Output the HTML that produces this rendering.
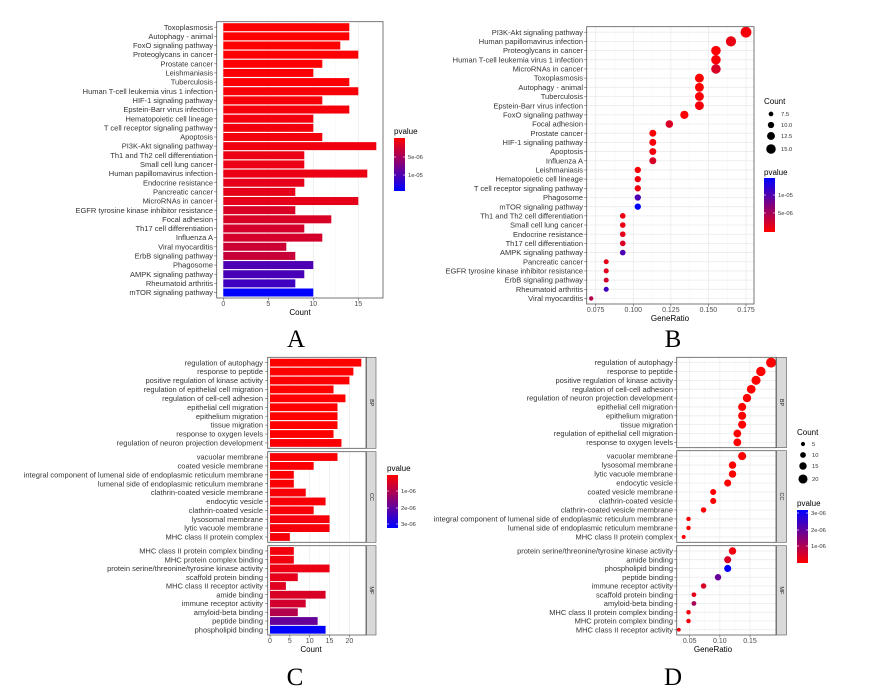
<!DOCTYPE html>
<html><head><meta charset="utf-8">
<style>
html,body{margin:0;padding:0;background:#fff;}
svg{display:block;font-family:"Liberation Sans",sans-serif;}
.lab{font-size:7.5px;fill:#333;}
.tick{font-size:7px;fill:#4d4d4d;}
.ttl{font-size:8px;fill:#000;}
.leg{font-size:5.8px;fill:#333;}
.big{font-family:"Liberation Serif",serif;font-size:25px;fill:#000;}
</style></head>
<body>
<svg id="fig" width="874" height="692" viewBox="0 0 874 692" xmlns="http://www.w3.org/2000/svg">
<defs>
<linearGradient id="gRB" x1="0" y1="0" x2="0" y2="1"><stop offset="0" stop-color="#ff0000"/><stop offset="1" stop-color="#0000ff"/></linearGradient>
<linearGradient id="gBR" x1="0" y1="0" x2="0" y2="1"><stop offset="0" stop-color="#0000ff"/><stop offset="1" stop-color="#ff0000"/></linearGradient>
</defs>
</svg>
<script>
// ---------- Panel A data (KEGG bar) ----------
const catsA = ["Toxoplasmosis","Autophagy - animal","FoxO signaling pathway","Proteoglycans in cancer","Prostate cancer","Leishmaniasis","Tuberculosis","Human T-cell leukemia virus 1 infection","HIF-1 signaling pathway","Epstein-Barr virus infection","Hematopoietic cell lineage","T cell receptor signaling pathway","Apoptosis","PI3K-Akt signaling pathway","Th1 and Th2 cell differentiation","Small cell lung cancer","Human papillomavirus infection","Endocrine resistance","Pancreatic cancer","MicroRNAs in cancer","EGFR tyrosine kinase inhibitor resistance","Focal adhesion","Th17 cell differentiation","Influenza A","Viral myocarditis","ErbB signaling pathway","Phagosome","AMPK signaling pathway","Rheumatoid arthritis","mTOR signaling pathway"];
const countsA = [14,14,13,15,11,10,14,15,11,14,10,10,11,17,9,9,16,9,8,15,8,12,9,11,7,8,10,9,8,10];
const pA = [0,0,0,0.01,0.01,0.02,0.02,0.03,0.03,0.04,0.05,0.05,0.05,0.06,0.08,0.08,0.08,0.1,0.1,0.1,0.15,0.15,0.17,0.17,0.2,0.22,0.7,0.72,0.75,1];
const ticksA = [0,5,10,15];
// ---------- Panel B data (KEGG dot) ----------
const catsB = ["PI3K-Akt signaling pathway","Human papillomavirus infection","Proteoglycans in cancer","Human T-cell leukemia virus 1 infection","MicroRNAs in cancer","Toxoplasmosis","Autophagy - animal","Tuberculosis","Epstein-Barr virus infection","FoxO signaling pathway","Focal adhesion","Prostate cancer","HIF-1 signaling pathway","Apoptosis","Influenza A","Leishmaniasis","Hematopoietic cell lineage","T cell receptor signaling pathway","Phagosome","mTOR signaling pathway","Th1 and Th2 cell differentiation","Small cell lung cancer","Endocrine resistance","Th17 cell differentiation","AMPK signaling pathway","Pancreatic cancer","EGFR tyrosine kinase inhibitor resistance","ErbB signaling pathway","Rheumatoid arthritis","Viral myocarditis"];
const ratioB = [0.175,0.165,0.155,0.155,0.155,0.144,0.144,0.144,0.144,0.134,0.124,0.113,0.113,0.113,0.113,0.103,0.103,0.103,0.103,0.103,0.093,0.093,0.093,0.093,0.093,0.082,0.082,0.082,0.082,0.072];
const countsB = [17,16,15,15,15,14,14,14,14,13,12,11,11,11,11,10,10,10,10,10,9,9,9,9,9,8,8,8,8,7];
const pB = [0.04,0.08,0.01,0.03,0.15,0,0,0.02,0.04,0,0.15,0.01,0.03,0.05,0.15,0.02,0.05,0.05,0.7,1,0.08,0.08,0.1,0.15,0.7,0.1,0.12,0.18,0.75,0.3];
const ticksB = [0.075,0.1,0.125,0.15,0.175];
// ---------- Panel C data (GO bar) ----------
const catsCBP = ["regulation of autophagy","response to peptide","positive regulation of kinase activity","regulation of epithelial cell migration","regulation of cell-cell adhesion","epithelial cell migration","epithelium migration","tissue migration","response to oxygen levels","regulation of neuron projection development"];
const countsCBP = [23,21,20,16,19,17,17,17,16,18];
const catsCCC = ["vacuolar membrane","coated vesicle membrane","integral component of lumenal side of endoplasmic reticulum membrane","lumenal side of endoplasmic reticulum membrane","clathrin-coated vesicle membrane","endocytic vesicle","clathrin-coated vesicle","lysosomal membrane","lytic vacuole membrane","MHC class II protein complex"];
const countsCCC = [17,11,6,6,9,14,11,15,15,5];
const catsCMF = ["MHC class II protein complex binding","MHC protein complex binding","protein serine/threonine/tyrosine kinase activity","scaffold protein binding","MHC class II receptor activity","amide binding","immune receptor activity","amyloid-beta binding","peptide binding","phospholipid binding"];
const countsCMF = [6,6,15,7,4,14,9,7,12,14];
const pCBP = [0,0,0,0,0,0,0,0,0,0.02];
const pCCC = [0.02,0.02,0.02,0.02,0.03,0.03,0.03,0.04,0.04,0.04];
const pCMF = [0.05,0.05,0.08,0.1,0.12,0.15,0.18,0.3,0.6,1];
const ticksC = [0,5,10,15,20];
// ---------- Panel D data (GO dot) ----------
const catsDBP = ["regulation of autophagy","response to peptide","positive regulation of kinase activity","regulation of cell-cell adhesion","regulation of neuron projection development","epithelial cell migration","epithelium migration","tissue migration","regulation of epithelial cell migration","response to oxygen levels"];
const ratioDBP = [0.185,0.168,0.16,0.152,0.145,0.137,0.137,0.137,0.129,0.129];
const countsDBP = [23,21,20,19,18,17,17,17,16,16];
const catsDCC = ["vacuolar membrane","lysosomal membrane","lytic vacuole membrane","endocytic vesicle","coated vesicle membrane","clathrin-coated vesicle","clathrin-coated vesicle membrane","integral component of lumenal side of endoplasmic reticulum membrane","lumenal side of endoplasmic reticulum membrane","MHC class II protein complex"];
const ratioDCC = [0.137,0.121,0.121,0.113,0.089,0.089,0.073,0.048,0.048,0.04];
const countsDCC = [17,15,15,14,11,11,9,6,6,5];
const catsDMF = ["protein serine/threonine/tyrosine kinase activity","amide binding","phospholipid binding","peptide binding","immune receptor activity","scaffold protein binding","amyloid-beta binding","MHC class II protein complex binding","MHC protein complex binding","MHC class II receptor activity"];
const ratioDMF = [0.121,0.113,0.113,0.097,0.073,0.057,0.057,0.048,0.048,0.032];
const countsDMF = [15,14,14,12,9,7,7,6,6,4];
const pDBP = [0,0,0,0,0,0,0,0,0,0];
const pDCC = [0,0,0,0,0,0,0,0,0,0];
const pDMF = [0.05,0.15,1,0.6,0.15,0.1,0.35,0.05,0.05,0.05];
const ticksD = [0.05,0.10,0.15];

const NS="http://www.w3.org/2000/svg";
const svg=document.getElementById('fig');
function mk(tag,attrs,parent){const e=document.createElementNS(NS,tag);for(const k in attrs)e.setAttribute(k,attrs[k]);(parent||svg).appendChild(e);return e;}
function col(t){const r=Math.round(255*(1-t)),b=Math.round(255*t);return `rgb(${r},0,${b})`;}

function panelFrame(x0,x1,y0,y1,xs,ticks,name){
  const g=mk('g',{});
  
  
  mk('rect',{x:x0,y:y0,width:x1-x0,height:y1-y0,fill:'#fff'},g);
  for(let i=0;i<ticks.length;i++){
    const x=xs(ticks[i]);
    const gl=mk('line',{x1:x,x2:x,y1:y0,y2:y1,stroke:'#ebebeb','stroke-width':0.8},g);
    
    
    if(i<ticks.length-1){const xm=(x+xs(ticks[i+1]))/2;mk('line',{x1:xm,x2:xm,y1:y0,y2:y1,stroke:'#f4f4f4','stroke-width':0.5},g);}
  }
  return g;
}
function border(x0,x1,y0,y1){mk('rect',{x:x0,y:y0,width:x1-x0,height:y1-y0,fill:'none',stroke:'#555','stroke-width':0.8});}
function xTicks(xs,ticks,y1,ty,fmt){
  ticks.forEach(v=>{const x=xs(v);mk('line',{x1:x,x2:x,y1:y1,y2:y1+2.5,stroke:'#555','stroke-width':0.6});
    const t=mk('text',{x:x,y:ty,'text-anchor':'middle',class:'tick'});t.textContent=fmt(v);
    
    });
}
function rowLabels(cats,yc,lx,x0){
  cats.forEach((c,i)=>{const y=yc(i);
    mk('line',{x1:x0-2.5,x2:x0,y1:y,y2:y,stroke:'#555','stroke-width':0.6});
    const t=mk('text',{x:lx,y:y+2.6,'text-anchor':'end',class:'lab'});t.textContent=c;
    
    });
}
function rows(n,y0,y1){const u=(y1-y0)/(n-1+1.2);return i=>y0+u*(0.6+i);}
function bars(cats,counts,ps,xs,yc,h,name){
  cats.forEach((c,i)=>{const x=xs(0),w=xs(counts[i])-x;
    const r=mk('rect',{x:x,y:yc(i)-h/2,width:w,height:h,fill:col(ps[i])});
    
    });
}
function dots(cats,ratios,counts,ps,xs,yc,rad,name){
  cats.forEach((c,i)=>{
    const d=mk('circle',{cx:xs(ratios[i]),cy:yc(i),r:rad(counts[i]),fill:col(ps[i])});
    
    });
}
function txt(x,y,s,cls,anchor,name){const t=mk('text',{x:x,y:y,class:cls,'text-anchor':anchor||'start'});t.textContent=s;
  
  return t;}
function colorbar(x,y,w,h,grad,labels,ys,name){
  const r=mk('rect',{x:x,y:y,width:w,height:h,fill:'url(#'+grad+')'});
  
  
  labels.forEach((l,i)=>{mk('line',{x1:x,x2:x+2,y1:ys[i],y2:ys[i],stroke:'#fff','stroke-width':0.6});mk('line',{x1:x+w-2,x2:x+w,y1:ys[i],y2:ys[i],stroke:'#fff','stroke-width':0.6});
    txt(x+w+3,ys[i]+2,l,'leg','start','legend-label');});
}
function strip(x0,x1,y0,y1,label){
  const r=mk('rect',{x:x0,y:y0,width:x1-x0,height:y1-y0,fill:'#d9d9d9',stroke:'#555','stroke-width':0.6});
  
  
  const cx=(x0+x1)/2,cy=(y0+y1)/2;
  const t=mk('text',{x:cx,y:cy,'text-anchor':'middle',transform:`rotate(90 ${cx} ${cy})`,style:'font-size:5.5px;fill:#1a1a1a','dominant-baseline':'middle'});t.textContent=label;
  
  
}

// ===== Panel A =====
(function(){
  const x0=216.7,x1=383,y0=21.7,y1=298;
  const xs=v=>223.3+v*9;
  const yc=rows(catsA.length,y0,y1);
  panelFrame(x0,x1,y0,y1,xs,ticksA,'a');
  bars(catsA,countsA,pA,xs,yc,8,'a');
  border(x0,x1,y0,y1);
  rowLabels(catsA,yc,213,x0);
  xTicks(xs,ticksA,y1,306,v=>String(v));
  txt(300,315,'Count','ttl','middle','a-x-axis-title');
  txt(394,134,'pvalue','ttl','start','a-legend-title');
  colorbar(394,138,11,53,'gRB',['5e-06','1e-05'],[157,175],'a-colorbar');
  txt(296,347,'A','big','middle','panel-label-a');
})();

// ===== Panel B =====
(function(){
  const x0=586.7,x1=754,y0=26.7,y1=304;
  const xs=r=>595.7+(r-0.075)*1503;
  const yc=rows(catsB.length,y0,y1);
  const rad=c=>2.2+(c-7)*0.32;
  panelFrame(x0,x1,y0,y1,xs,ticksB,'b');
  catsB.forEach((c,i)=>mk('line',{x1:x0,x2:x1,y1:yc(i),y2:yc(i),stroke:'#ebebeb','stroke-width':0.8}));
  dots(catsB,ratioB,countsB,pB,xs,yc,rad,'b');
  border(x0,x1,y0,y1);
  rowLabels(catsB,yc,583,x0);
  xTicks(xs,ticksB,y1,312,v=>v.toFixed(3));
  txt(670,321,'GeneRatio','ttl','middle','b-x-axis-title');
  txt(764,104,'Count','ttl','start','b-size-legend-title');
  [[7.5,114],[10,125],[12.5,136],[15,149]].forEach(a=>{const d=mk('circle',{cx:771,cy:a[1],r:rad(a[0]),fill:'#000'});
    
    
    txt(781,a[1]+2,a[0].toFixed(1),'leg','start','legend-label');});
  txt(764,175,'pvalue','ttl','start','b-legend-title');
  colorbar(764,178,11,54,'gBR',['1e-05','5e-06'],[195,213],'b-colorbar');
  txt(673,347,'B','big','middle','panel-label-b');
})();

// ===== Panel C =====
(function(){
  const x0=267.7,x1=366;
  const facets=[[357.3,448.3,catsCBP,countsCBP,pCBP,'BP'],[451.7,542.3,catsCCC,countsCCC,pCCC,'CC'],[545.7,635,catsCMF,countsCMF,pCMF,'MF']];
  const xs=v=>270+v*3.97;
  facets.forEach(f=>{
    const yc=rows(f[2].length,f[0],f[1]);
    panelFrame(x0,x1,f[0],f[1],xs,ticksC,'c-'+f[5].toLowerCase());
    bars(f[2],f[3],f[4],xs,yc,7.8,'c-'+f[5].toLowerCase());
    border(x0,x1,f[0],f[1]);
    strip(366.5,376,f[0],f[1],f[5]);
    rowLabels(f[2],yc,263,x0);
  });
  xTicks(xs,ticksC,635,643,v=>String(v));
  txt(311,652,'Count','ttl','middle','c-x-axis-title');
  txt(387,471,'pvalue','ttl','start','c-legend-title');
  colorbar(387,475,11,53,'gRB',['1e-06','2e-06','3e-06'],[491,508,524],'c-colorbar');
  txt(295,685,'C','big','middle','panel-label-c');
})();

// ===== Panel D =====
(function(){
  const x0=676.7,x1=776;
  const facets=[[357.3,447.7,catsDBP,ratioDBP,countsDBP,pDBP,'BP'],[450.7,542.3,catsDCC,ratioDCC,countsDCC,pDCC,'CC'],[545.7,635,catsDMF,ratioDMF,countsDMF,pDMF,'MF']];
  const xs=r=>689.7+(r-0.05)*603;
  const rad=c=>1.9+(c-4)*0.165;
  facets.forEach(f=>{
    const yc=rows(f[2].length,f[0],f[1]);
    panelFrame(x0,x1,f[0],f[1],xs,ticksD,'d-'+f[6].toLowerCase());
    f[2].forEach((c,i)=>mk('line',{x1:x0,x2:x1,y1:yc(i),y2:yc(i),stroke:'#ebebeb','stroke-width':0.8}));
    dots(f[2],f[3],f[4],f[5],xs,yc,rad,'d-'+f[6].toLowerCase());
    border(x0,x1,f[0],f[1]);
    strip(776.5,786.5,f[0],f[1],f[6]);
    rowLabels(f[2],yc,673,x0);
  });
  xTicks(xs,ticksD,635,643,v=>v.toFixed(2));
  txt(713,652,'GeneRatio','ttl','middle','d-x-axis-title');
  txt(797,435,'Count','ttl','start','d-size-legend-title');
  [[5,444],[10,455],[15,466],[20,479]].forEach(a=>{const d=mk('circle',{cx:803,cy:a[1],r:rad(a[0]),fill:'#000'});
    
    
    txt(812,a[1]+2,String(a[0]),'leg','start','legend-label');});
  txt(797,506,'pvalue','ttl','start','d-legend-title');
  colorbar(797,510,11,53,'gBR',['3e-06','2e-06','1e-06'],[513,530,546],'d-colorbar');
  txt(673,685,'D','big','middle','panel-label-d');
})();
</script>
</body></html>
